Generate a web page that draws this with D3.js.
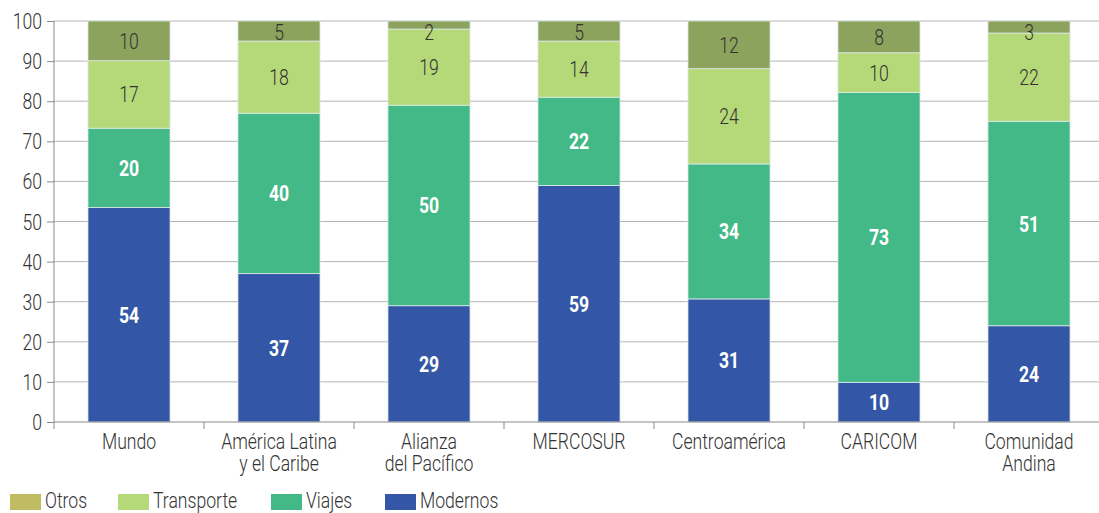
<!DOCTYPE html>
<html><head><meta charset="utf-8">
<script src="https://cdn.jsdelivr.net/npm/d3@7"></script>
<style>body{margin:0;background:#fff}svg{display:block}text{font-family:Roboto,"DejaVu Sans Condensed",sans-serif}</style>
</head><body><svg id="c" width="1099" height="513"></svg>
<script>
const categories = [["Mundo"],["América Latina","y el Caribe"],["Alianza","del Pacífico"],["MERCOSUR"],["Centroamérica"],["CARICOM"],["Comunidad","Andina"]];
const modernos = [54,37,29,59,31,10,24];
const viajes = [20,40,50,22,34,73,51];
const transporte = [17,18,19,14,24,10,22];
const otros = [10,5,2,5,12,8,3];
const yTicks = [0,10,20,30,40,50,60,70,80,90,100];
const seriesNames = ["Modernos","Viajes","Transporte","Otros"];
const legendOrder = ["Otros","Transporte","Viajes","Modernos"];
const barColors = {Modernos:"#3357a6",Viajes:"#42b987",Transporte:"#b5d878",Otros:"#8ba35c"};
const legendColors = {Modernos:"#3357a6",Viajes:"#42b987",Transporte:"#b5d878",Otros:"#bfbc62"};
const labelColors = {Modernos:"#fff",Viajes:"#fff",Transporte:"#333",Otros:"#333"};

(function(){
const SX=0.8, FS=22;
const svg = d3.select("#c");
const left=54, right=1104, topY=21, bottom=422;
const x = d3.scaleBand().domain(categories.map((d,i)=>i)).range([left,right]).paddingInner(0.453).paddingOuter(0.2265);
const y = d3.scaleLinear().domain([0,100]).range([bottom,topY]);

function ctext(parent, px, py, lines, anchor, fill, weight, fs){
  const gg = parent.append("g").attr("transform",`translate(${px},${py}) scale(${SX},1)`);
  const t = gg.append("text").attr("text-anchor",anchor).attr("fill",fill).attr("font-size",fs||FS)
    .attr("font-weight",weight||300);
  [].concat(lines).forEach((l,k)=>t.append("tspan").attr("x",0).attr("dy",k?22:0).text(l));
  return t;
}

svg.append("g").selectAll("line").data(yTicks.filter(d=>d>0)).join("line")
  .attr("x1",left).attr("x2",right).attr("y1",d=>y(d)).attr("y2",d=>y(d))
  .attr("stroke","#b4b4b4").attr("stroke-width",1);

const data = categories.map((c,i)=>{
  const vals={Modernos:modernos[i],Viajes:viajes[i],Transporte:transporte[i],Otros:otros[i]};
  const tot=d3.sum(Object.values(vals));
  const o={i}; seriesNames.forEach(s=>{o[s]=vals[s]*100/tot; o["raw_"+s]=vals[s];}); return o;
});
const stack = d3.stack().keys(seriesNames)(data);

const g = svg.append("g");
stack.forEach(layer=>{
  const s=layer.key;
  g.append("g").selectAll("rect").data(layer).join("rect")
    .attr("x",d=>x(d.data.i)).attr("width",x.bandwidth())
    .attr("y",d=>y(d[1])).attr("height",d=>y(d[0])-y(d[1]))
    .attr("fill",barColors[s]).attr("stroke","#dfe8ea").attr("stroke-width",0.8);
});
const lblG = svg.append("g");
stack.forEach(layer=>{
  const s=layer.key;
  layer.forEach(d=>{
    const cy=Math.max((y(d[0])+y(d[1]))/2, y(100)+11);
    ctext(lblG, x(d.data.i)+x.bandwidth()/2, cy+8, String(d.data["raw_"+s]), "middle", labelColors[s],
      (s==="Modernos"||s==="Viajes")?"bold":300);
  });
});

const ya = svg.append("g").attr("transform",`translate(${left},0)`)
  .call(d3.axisLeft(y).tickValues(yTicks).tickSize(7).tickPadding(5).tickFormat(""));
ya.select(".domain").attr("stroke","#8a8a8a").attr("d",`M0,${bottom}V${topY}`);
ya.selectAll(".tick line").attr("stroke","#8a8a8a");
yTicks.forEach(t=>ctext(svg, left-12, y(t)+8, String(t), "end", "#333"));

const xa = svg.append("g").attr("transform",`translate(0,${bottom})`);
xa.append("line").attr("x1",left).attr("x2",right).attr("stroke","#8a8a8a");
const bounds = categories.map((c,i)=>x(i)-x.step()*x.paddingInner()/2).concat([right]);
xa.selectAll("line.t").data(bounds).join("line").attr("class","t")
  .attr("x1",d=>d).attr("x2",d=>d).attr("y1",0).attr("y2",7).attr("stroke","#8a8a8a");
categories.forEach((lines,i)=>{
  ctext(xa, x(i)+x.bandwidth()/2, 27, lines, "middle", "#333");
});

const legX=[10,118,271,385];
const lg = svg.append("g");
legendOrder.forEach((s,k)=>{
  lg.append("rect").attr("x",legX[k]).attr("y",494).attr("width",31).attr("height",16).attr("fill",legendColors[s]);
  ctext(lg, legX[k]+35, 508, s, "start", "#333");
});
})();
</script></body></html>
